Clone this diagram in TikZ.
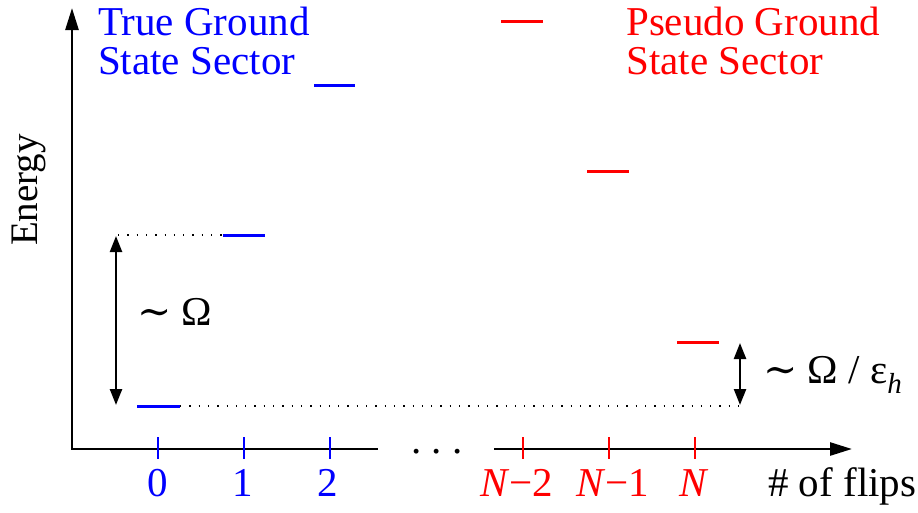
\documentclass[tikz,border=0pt]{standalone}
\usepackage{fontspec}
\setmainfont{Liberation Serif}
\newfontfamily\symfnt{DejaVu Serif}
\usetikzlibrary{arrows.meta}
\newcommand{\tld}{{\symfnt ∼}}
\begin{document}
\begin{tikzpicture}[x=1pt,y=-1pt,
  txt/.style={inner sep=0pt, font=\fontsize{41}{39}\selectfont},
  lvl/.style={line width=3pt},
  axisline/.style={line width=2.6pt, line join=miter},
  tickmark/.style={line width=1.8pt},
  dimarrow/.style={line width=2.4pt,{Triangle[length=16pt,width=12pt]}-{Triangle[length=16pt,width=12pt]}},
  guide/.style={line width=1.3pt, dash pattern=on 1.3pt off 8pt}]
\useasboundingbox (0,0) rectangle (918,512);
% axes
\coordinate (O) at (72,449);
\coordinate (ytop) at (72,8);
\coordinate (xa) at (378,449);
\coordinate (xb) at (494,449);
\coordinate (xtip) at (852,449);
\draw[axisline,{Triangle[length=22pt,width=13pt]}-] (ytop) -- (O) -- (xa);
\draw[axisline,-{Triangle[length=22pt,width=13pt]}] (xb) -- (xtip);
\node[txt, anchor=base] (dots) at (437,453) {.\kern10pt.\kern10pt.};
% ticks
\foreach \n/\x/\c in {t0/158/blue, t1/244/blue, t2/330/blue, t3/523/red, t4/609/red, t5/695/red}{
  \coordinate (\n a) at (\x,437);
  \coordinate (\n b) at (\x,459);
  \draw[tickmark,\c] (\n a) -- (\n b);
}
% tick labels
\node[txt, anchor=base, blue] (n0) at (158,496) {0};
\node[txt, anchor=base, blue] (n1) at (243,496) {1};
\node[txt, anchor=base, blue] (n2) at (328,496) {2};
\node[txt, anchor=base west, red] (n3) at (480,496) {\textit{N}−2};
\node[txt, anchor=base west, red] (n4) at (576,496) {\textit{N}−1};
\node[txt, anchor=base west, red] (n5) at (679,496) {\textit{N}};
\node[txt, anchor=base west] (flips) at (768,496) {\# of flips};
% axis label
\node[txt, rotate=90, font=\fontsize{39}{39}\selectfont] (energy) at (29,190) {Energy};
% levels
\coordinate (l0a) at (137,406); \coordinate (l0b) at (180,406);
\coordinate (l1a) at (223,235); \coordinate (l1b) at (265,235);
\coordinate (l2a) at (314,85);  \coordinate (l2b) at (355,85);
\coordinate (l3a) at (501,21);  \coordinate (l3b) at (543,21);
\coordinate (l4a) at (587,171); \coordinate (l4b) at (629,171);
\coordinate (l5a) at (677,342); \coordinate (l5b) at (719,342);
\draw[lvl,blue] (l0a) -- (l0b);
\draw[lvl,blue] (l1a) -- (l1b);
\draw[lvl,blue] (l2a) -- (l2b);
\draw[lvl,red] (l3a) -- (l3b);
\draw[lvl,red] (l4a) -- (l4b);
\draw[lvl,red] (l5a) -- (l5b);
% guides
\coordinate (g1) at (118,235);
\coordinate (g2) at (740,406);
\draw[guide] (g1) -- (l1a);
\draw[guide] (l0b) -- (g2);
% gap arrows
\coordinate (a1) at (116,236); \coordinate (a2) at (116,405);
\draw[dimarrow] (a1) -- (a2);
\coordinate (b1) at (740,343); \coordinate (b2) at (740,405);
\draw[dimarrow] (b1) -- (b2);
\node[txt, anchor=base west] (om) at (137,325) {\tld\ Ω};
\node[txt, anchor=base west] (omh) at (763,383) {\tld\ Ω / ε\raisebox{-0.25em}{\fontsize{29}{29}\selectfont\itshape h}};
% sector titles
\node[txt, anchor=north west, align=left, blue] (true) at (98,7) {True Ground\\State Sector};
\node[txt, anchor=north west, align=left, red] (pseudo) at (626,7) {Pseudo Ground\\State Sector};
\end{tikzpicture}
\end{document}
